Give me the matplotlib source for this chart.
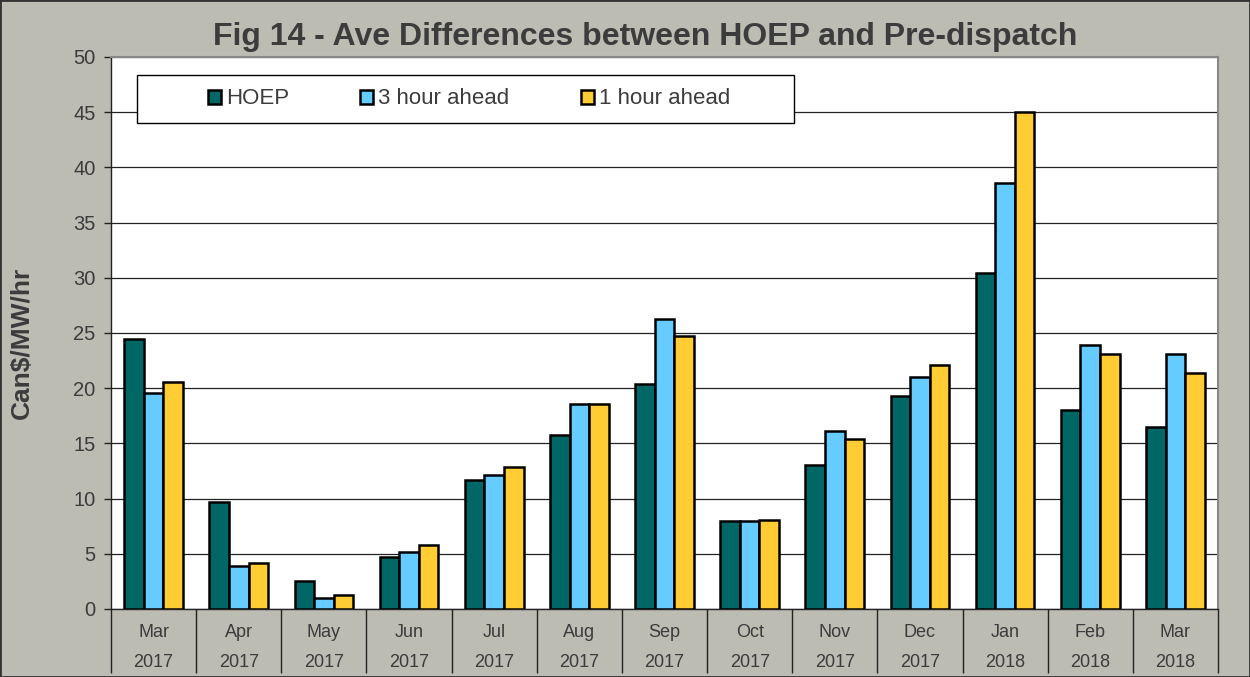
import numpy as np
import matplotlib
matplotlib.use('Agg')
import matplotlib.pyplot as plt
from matplotlib.patches import Patch, Rectangle

plt.rcParams['font.family'] = ['Liberation Sans', 'DejaVu Sans']

months = ['Mar', 'Apr', 'May', 'Jun', 'Jul', 'Aug', 'Sep', 'Oct', 'Nov', 'Dec', 'Jan', 'Feb', 'Mar']
years = ['2017'] * 10 + ['2018'] * 3
hoep = [24.5, 9.7, 2.5, 4.7, 11.7, 15.8, 20.4, 8.0, 13.0, 19.3, 30.4, 18.0, 16.5]
ahead_3h = [19.6, 3.9, 1.0, 5.2, 12.1, 18.6, 26.3, 8.0, 16.1, 21.0, 38.6, 23.9, 23.1]
ahead_1h = [20.6, 4.2, 1.3, 5.8, 12.9, 18.6, 24.7, 8.1, 15.4, 22.1, 45.0, 23.1, 21.4]
series_names = ['HOEP', '3 hour ahead', '1 hour ahead']
colors = ['#006666', '#66CCFF', '#FFCC33']

bg = '#BCBCB3'
txt = '#3C3C3C'

fig = plt.figure(figsize=(12.5, 6.77), dpi=100, facecolor=bg)
# plot area in pixels: x 111-1218, y 57-609
ax = fig.add_axes([111 / 1250, 1 - 609 / 677, 1107 / 1250, 552 / 677])
ax.set_facecolor('white')

x = np.arange(len(months))
w = 0.23
for i, (vals, c) in enumerate(zip([hoep, ahead_3h, ahead_1h], colors)):
    ax.bar(x + (i - 1) * w, vals, width=w, color=c, edgecolor='black', linewidth=1.8, zorder=3)

ax.set_xlim(-0.5, len(months) - 0.5)
ax.set_ylim(0, 50)
ax.set_yticks(np.arange(0, 51, 5))
ax.yaxis.grid(True, color='#222222', linewidth=0.9, zorder=1)
ax.set_axisbelow(True)

ax.set_xticks(x)
ax.set_xticklabels([f'{m}\n{y}' for m, y in zip(months, years)], linespacing=1.95)
ax.set_xticks(np.arange(-0.5, len(months), 1.0), minor=True)
ax.tick_params(axis='x', which='major', length=0, pad=11, labelsize=13, labelcolor=txt)
ax.tick_params(axis='x', which='minor', length=46, width=1.0, color='#222222', direction='out')
ax.tick_params(axis='y', length=5, width=1.0, color='#222222', labelsize=14.5, labelcolor=txt, pad=6)

for s in ['left', 'bottom']:
    ax.spines[s].set_color('#222222')
    ax.spines[s].set_linewidth(1.0)
for s in ['top', 'right']:
    ax.spines[s].set_color('#888888')
    ax.spines[s].set_linewidth(1.5)

ax.set_ylabel('Can$/MW/hr', fontsize=19, fontweight='bold', color=txt)
ax.yaxis.set_label_coords(-(111 - 34) / 1107, (609 - 343) / 552)

fig.text(645 / 1250, 1 - 37 / 677, 'Fig 14 - Ave Differences between HOEP and Pre-dispatch',
         ha='center', va='center', fontsize=23, fontweight='bold', color=txt)

# legend box
lx0, lx1 = (137 - 111) / 1107, (794 - 111) / 1107
ly0, ly1 = (609 - 123) / 552, (609 - 75) / 552
ax.add_patch(Rectangle((lx0, ly0), lx1 - lx0, ly1 - ly0, transform=ax.transAxes,
                       facecolor='white', edgecolor='black', linewidth=1.0, zorder=5))
handles = [Patch(facecolor=c, edgecolor='black', linewidth=1.8) for c in colors]
leg = ax.legend(handles, series_names, ncol=3, loc='center', frameon=False,
                bbox_to_anchor=((lx0 + lx1) / 2 + 0.003, (ly0 + ly1) / 2),
                fontsize=16, handlelength=0.6, handleheight=0.6, handletextpad=0.22,
                columnspacing=3.2, labelcolor=txt)
leg.set_zorder(6)

fig.patches.append(Rectangle((0, 0), 1, 1, transform=fig.transFigure, fill=False,
                             edgecolor='#333333', linewidth=2))

fig.savefig('out.png', dpi=100, facecolor=bg)
